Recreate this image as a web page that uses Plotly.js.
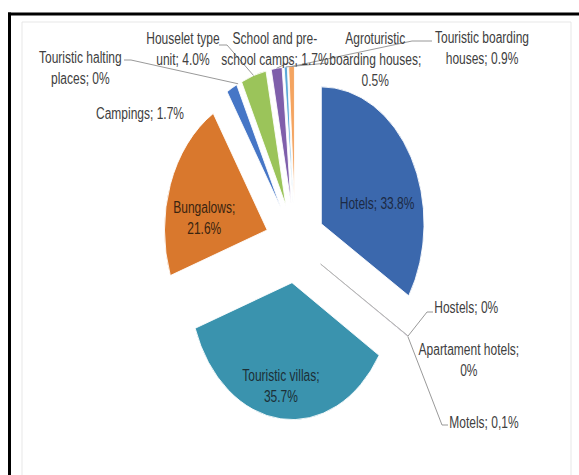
<!DOCTYPE html>
<html><head><meta charset="utf-8">
<script src="https://cdn.plot.ly/plotly-3.0.1.min.js"></script>
<style>
html,body{margin:0;padding:0;background:#fff;overflow:hidden;}
#wrap{width:579px;height:475px;overflow:hidden;position:relative;background:#fff;}
#chart{width:772px;height:475px;transform:scaleX(0.75);transform-origin:0 0;position:absolute;left:0;top:0;}
</style></head><body>
<div id="wrap"><div id="chart"></div></div>
<script>
// ---- data ----
const categories = ['Hotels','Hostels','Apartament hotels','Motels','Touristic villas','Bungalows','Campings','Touristic halting places','Houselet type unit','School and pre-school camps','Agroturistic boarding houses','Touristic boarding houses'];
const shares = [33.8, 0, 0, 0.1, 35.7, 21.6, 1.7, 0, 4.0, 1.7, 0.5, 0.9];
const sliceLabels = ['Hotels; 33.8%','Hostels; 0%','Apartament hotels;<br>0%','Motels; 0,1%','Touristic villas;<br>35.7%','Bungalows;<br>21.6%','Campings; 1.7%','Touristic halting<br>places; 0%','Houselet type<br>unit; 4.0%','School and pre-<br>school camps; 1.7%','Agroturistic<br>boarding houses;<br>0.5%','Touristic boarding<br>houses; 0.9%'];
const colors = ['#3b68ad','#c0504d','#9bbb59','#8064a2','#3a93ae','#d9782d','#4676c6','#b04a48','#9bc45a','#7f5fab','#5ba8d8','#f4a460'];

// ---- presentation ----
const SW = 579, SH = 475;          // screen size
const PULL = 0.29;
const FONT = 'Liberation Sans, Arial, sans-serif';
const px = x => x / SW, py = y => 1 - y / SH;

// label placement (screen px), colour, and leader elbows
const placement = {
  0: {at:[377,203], color:'#1c2a44', elbow:null},
  4: {at:[281,386], color:'#1c2f36', elbow:null},
  5: {at:[204,218], color:'#3a2410', elbow:null},
  1: {at:[466,307], elbow:[[433,312],[427,312]]},
  2: {at:[469,360], elbow:null},
  3: {at:[484,422], elbow:[[448,425],[442,425]]},
  6: {at:[140,113], elbow:null},
  7: {at:[80,68],  elbow:[[124,60],[131,60]]},
  8: {at:[183,49], elbow:[[219,45],[227,45]]},
  9: {at:[275,49], elbow:[[292,61]]},
  10:{at:[375,60], elbow:[[328,63]]},
  11:{at:[482,48], elbow:[[432,41],[412,41]]}
};

const annotations = Object.keys(placement).map(k => ({
  xref:'paper', yref:'paper', x: px(placement[k].at[0]), y: py(placement[k].at[1]),
  xanchor:'center', yanchor:'middle', align:'center', showarrow:false,
  text: sliceLabels[k], font:{family:FONT, size:16, color: placement[k].color || '#404040'}
}));

const frameShapes = [
  {type:'rect', xref:'paper', yref:'paper', x0:px(22), x1:px(571), y0:-0.05, y1:py(22), line:{color:'#e4e4e4', width:1}},
  {type:'line', xref:'paper', yref:'paper', x0:px(8), x1:1.01, y0:py(14), y1:py(14), line:{color:'#000', width:3}},
  {type:'line', xref:'paper', yref:'paper', x0:px(9.5), x1:px(9.5), y0:-0.02, y1:py(12.5), line:{color:'#000', width:4}}
];

const data = [{
  type:'pie', labels:categories, values:shares, sort:false, direction:'clockwise', rotation:0,
  pull: shares.map(() => PULL),
  marker:{colors:colors, line:{color:'#ffffff', width:1}},
  textinfo:'none',
  domain:{x:[0.25,0.77], y:[0.116,0.86]},
  hoverinfo:'none', showlegend:false
}];

const layout = {
  width:772, height:475, margin:{l:0,r:0,t:0,b:0},
  paper_bgcolor:'#ffffff', showlegend:false,
  annotations: annotations, shapes: frameShapes
};

const gd = document.getElementById('chart');
Plotly.newPlot(gd, data, layout, {staticPlot:true, displayModeBar:false}).then(() => {
  const cd0 = gd.calcdata[0][0];
  const r = cd0.r, cx = cd0.cx, cy = cd0.cy;
  const W = gd._fullLayout.width, H = gd._fullLayout.height;
  const total = shares.reduce((a,b) => a + b, 0);
  let cum = 0;
  const mids = shares.map(v => { const m = (cum + v/2) / total * 2 * Math.PI; cum += v; return m; });
  const pt = (i, k) => [(cx + k*r*Math.sin(mids[i])) / W, 1 - (cy - k*r*Math.cos(mids[i])) / H];
  const lines = [];
  // zero-width pulled slices drawn as a thin edge
  [1,2].forEach(i => {
    const a = pt(i, PULL), b = pt(i, 1 + PULL);
    lines.push({type:'line', xref:'paper', yref:'paper', x0:a[0], y0:a[1], x1:b[0], y1:b[1], line:{color:'#b5b5b5', width:1}});
  });
  Object.keys(placement).forEach(k => {
    const o = placement[k];
    if (!o.elbow) return;
    const t = pt(+k, 1 + PULL);
    let d = o.elbow.map((p, j) => (j ? 'L' : 'M') + px(p[0]) + ',' + py(p[1])).join(' ');
    d += ' L' + t[0] + ',' + t[1];
    lines.push({type:'path', xref:'paper', yref:'paper', path:d, line:{color:'#8a8a8a', width:1}});
  });
  Plotly.relayout(gd, {shapes: frameShapes.concat(lines)});
});
</script>
</body></html>
